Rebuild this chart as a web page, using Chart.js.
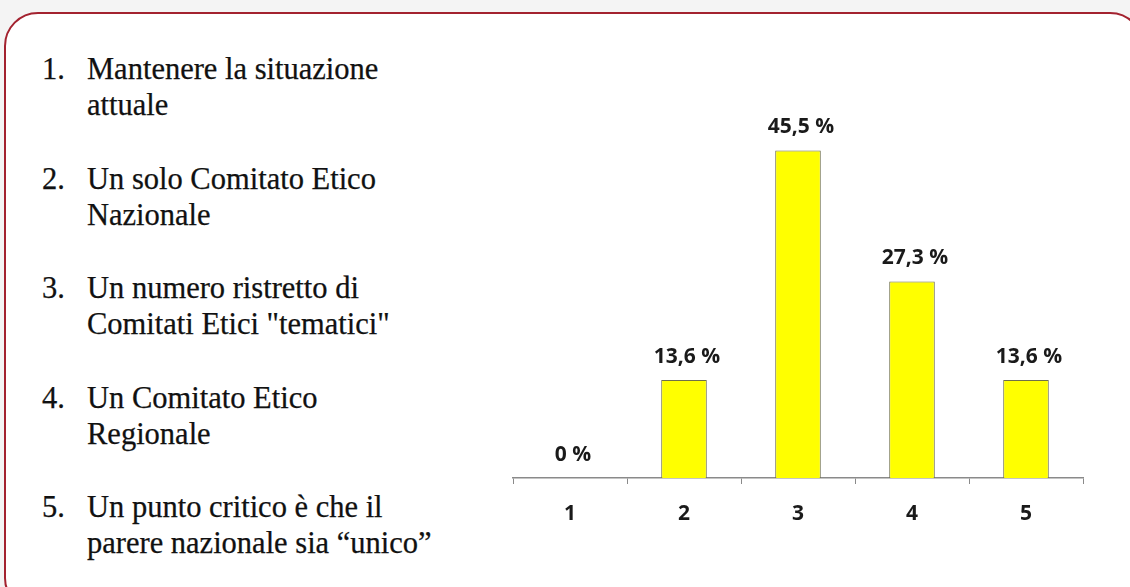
<!DOCTYPE html>
<html><head><meta charset="utf-8">
<script src="https://cdn.jsdelivr.net/npm/chart.js@4"></script>
<style>
html,body{margin:0;padding:0;width:1130px;height:587px;overflow:hidden;background:#f4f4f4;}
#box{position:absolute;left:4px;top:12px;width:1140px;height:600px;box-sizing:border-box;border:2px solid #a3222f;border-radius:34px;background:#fff;}
.item{position:absolute;font-family:"Liberation Serif";font-size:30.5px;line-height:36px;color:#111;white-space:nowrap;letter-spacing:0px;-webkit-text-stroke:0.25px #111;}
.num{position:absolute;left:42px;}
.txt{position:absolute;left:87px;}
#c{position:absolute;left:0;top:0;}
</style></head>
<body>
<div id="box"></div>
<div id="list"></div>
<canvas id="c" width="1130" height="587"></canvas>
<script>
const categories = ["1","2","3","4","5"];
const values = [0, 13.6, 45.5, 27.3, 13.6];
const valueLabels = ["0 %","13,6 %","45,5 %","27,3 %","13,6 %"];
const legendItems = [
  ["1.", "Mantenere la situazione", "attuale"],
  ["2.", "Un solo Comitato Etico", "Nazionale"],
  ["3.", "Un numero ristretto di", "Comitati Etici \"tematici\""],
  ["4.", "Un Comitato Etico", "Regionale"],
  ["5.", "Un punto critico è che il", "parere nazionale sia \u201cunico\u201d"]
];

const list = document.getElementById('list');
const tops = [51, 161, 270, 380, 489];
legendItems.forEach((it, i) => {
  const d = document.createElement('div');
  d.className = 'item';
  d.style.top = tops[i] + 'px';
  d.style.left = '0px';
  d.innerHTML = '<span class="num"></span><span class="txt"></span>';
  d.querySelector('.num').textContent = it[0];
  const t = d.querySelector('.txt');
  t.textContent = it[1];
  t.appendChild(document.createElement('br'));
  t.appendChild(document.createTextNode(it[2]));
  list.appendChild(d);
});

const labelPlugin = {
  id: 'valLabels',
  afterDatasetsDraw(chart) {
    const ctx = chart.ctx;
    const meta = chart.getDatasetMeta(0);
    ctx.save();
    ctx.font = 'bold 21px "Open Sans", sans-serif';
    ctx.fillStyle = '#1a1a1a';
    ctx.textAlign = 'center';
    ctx.textBaseline = 'middle';
    meta.data.forEach((bar, i) => {
      ctx.fillText(valueLabels[i], bar.x + 3, bar.y - 23);
    });
    ctx.restore();
  }
};

new Chart(document.getElementById('c'), {
  type: 'bar',
  data: {
    labels: categories,
    datasets: [{
      data: values,
      backgroundColor: '#ffff00',
      borderColor: '#6f6f4a',
      borderWidth: 1,
      borderSkipped: 'bottom',
      categoryPercentage: 1,
      barPercentage: 0.4
    }]
  },
  options: {
    responsive: false,
    animation: false,
    layout: { padding: { left: 513, right: 47, top: 118, bottom: 0 } },
    plugins: { legend: { display: false }, tooltip: { enabled: false } },
    scales: {
      y: { display: false, min: 0, max: 50 },
      x: {
        afterFit: (s) => { s.height = 109; },
        border: { display: true, color: '#8a8a8a', width: 1.5 },
        grid: { offset: true, drawOnChartArea: false, drawTicks: true, tickLength: 6, color: '#8a8a8a' },
        ticks: { color: '#1a1a1a', padding: 17, font: { family: '"Open Sans", sans-serif', weight: 'bold', size: 21 } }
      }
    }
  },
  plugins: [labelPlugin]
});
</script>
</body></html>
